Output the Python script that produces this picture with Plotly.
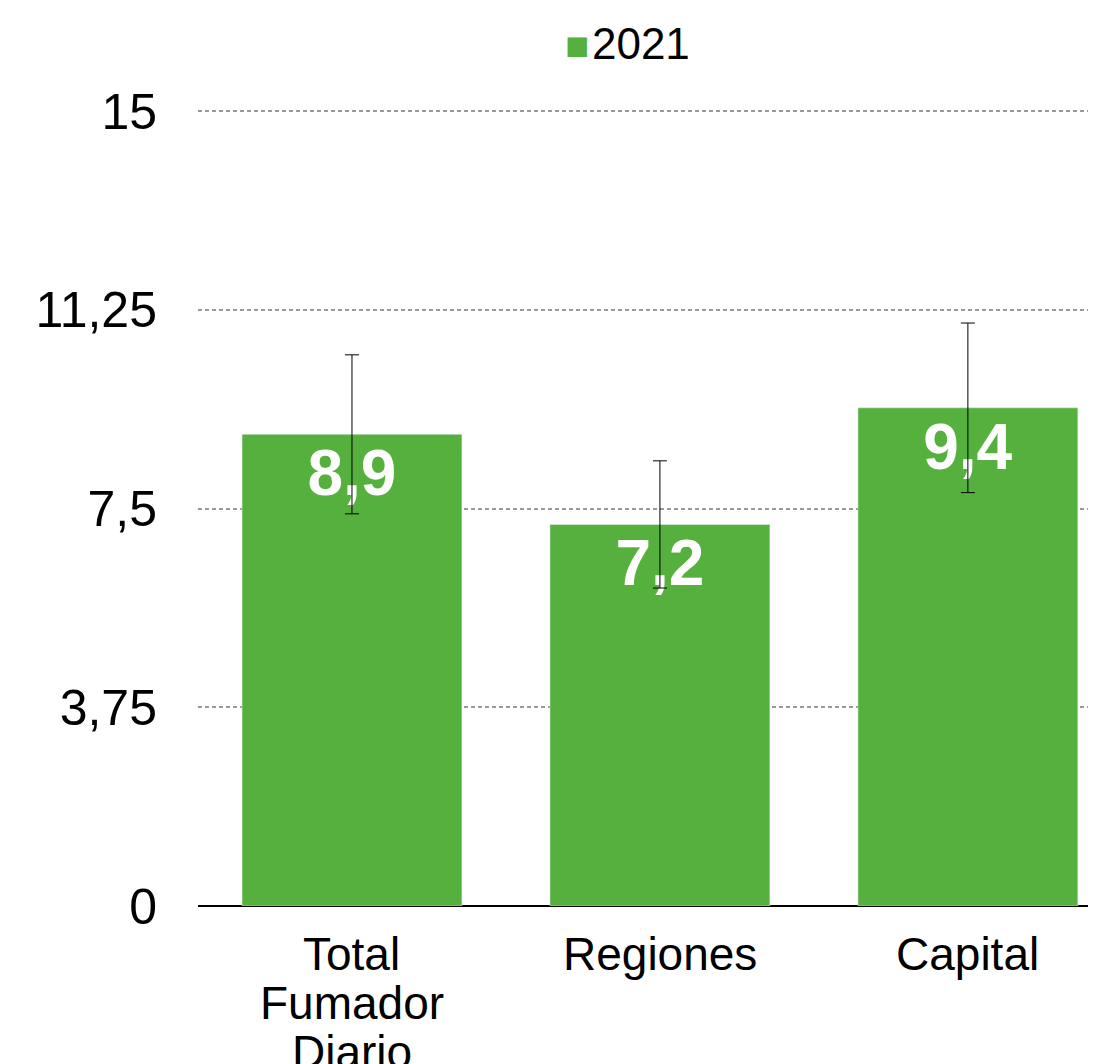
import plotly.graph_objects as go

# Data
categories = ["Total<br>Fumador<br>Diario", "Regiones", "Capital"]
values_2021 = [8.9, 7.2, 9.4]
errors_2021 = [1.5, 1.2, 1.6]
y_ticks = [0, 3.75, 7.5, 11.25, 15]
series_name = "2021"

green = "#56B03D"
font_family = "Helvetica Neue, Liberation Sans, Arial, sans-serif"

fig = go.Figure()
fig.add_trace(go.Bar(
    x=categories,
    y=values_2021,
    name=series_name,
    marker=dict(color=green),
    error_y=dict(type="data", array=errors_2021, color="black", thickness=1, width=7),
    texttemplate="<b>%{y:.1f}</b>",
    textposition="inside",
    insidetextanchor="end",
    textangle=0,
    insidetextfont=dict(family=font_family, size=64, color="white"),
    showlegend=False,
))

# category labels, one annotation per line so the line spacing stays tight
for cat in categories:
    for i, line in enumerate(cat.split("<br>")):
        fig.add_annotation(
            x=cat, y=0, xref="x", yref="y",
            text=line, showarrow=False,
            yanchor="top", xanchor="center",
            yshift=-20 - 49 * i,
            font=dict(family=font_family, size=46, color="black"),
        )

# legend
fig.add_annotation(
    x=0.478, y=1 + 66 / 796, xref="paper", yref="paper",
    text=(f'<span style="color:{green};font-size:40px">■</span>'
          f'<span style="font-size:10px"> </span>{series_name}'),
    showarrow=False, xanchor="center", yanchor="middle",
    font=dict(family=font_family, size=44, color="black"),
)

# the page adds an 8px body margin, so the figure is 8px smaller than the window
fig.update_layout(
    width=1088, height=1056,
    margin=dict(l=190, r=0, t=102, b=158),
    plot_bgcolor="white", paper_bgcolor="white",
    separators=",.",
    bargap=0.286,
    font=dict(family=font_family, color="black"),
)
fig.update_xaxes(
    range=[-0.5, 2.416],
    showticklabels=False,
    showgrid=False,
    showline=False,
)
fig.update_yaxes(
    range=[0, 15.02],
    tickvals=y_ticks,
    showgrid=True, gridcolor="#999999", gridwidth=2, griddash="4px,3px",
    zeroline=True, zerolinecolor="black", zerolinewidth=2,
    tickfont=dict(family=font_family, size=50, color="black"),
    ticklabelstandoff=40,
)

fig.write_html("out.html")
